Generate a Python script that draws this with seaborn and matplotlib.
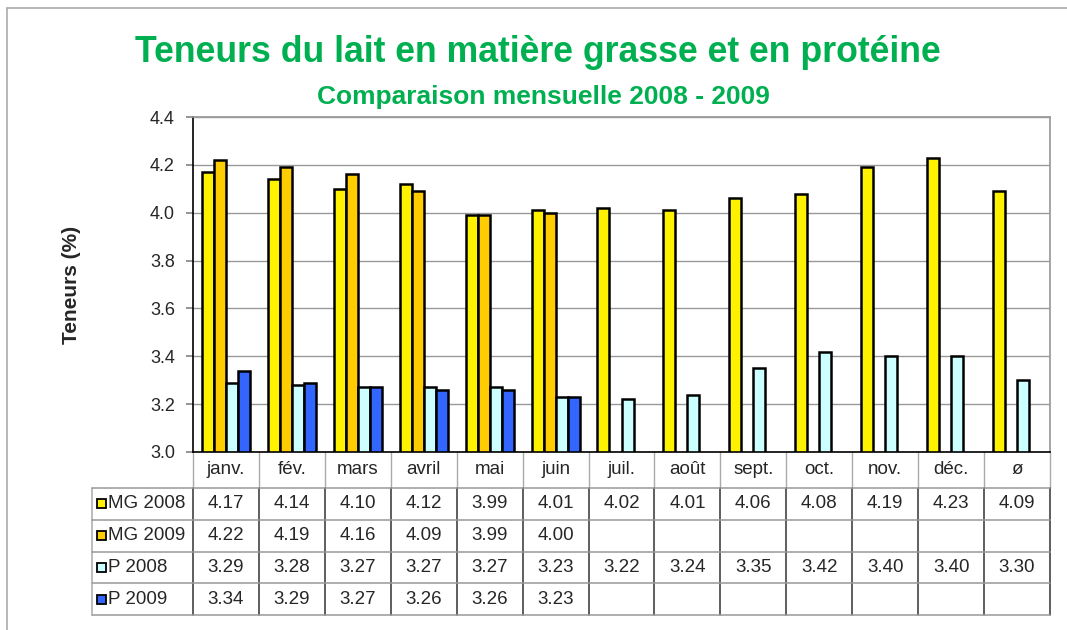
import numpy as np
import pandas as pd
import matplotlib.pyplot as plt
import seaborn as sns
from matplotlib.patches import Rectangle
from matplotlib.lines import Line2D

# data
months = ['janv.', 'fév.', 'mars', 'avril', 'mai', 'juin', 'juil.', 'août',
          'sept.', 'oct.', 'nov.', 'déc.', 'ø']
mg_2008 = [4.17, 4.14, 4.10, 4.12, 3.99, 4.01, 4.02, 4.01, 4.06, 4.08, 4.19, 4.23, 4.09]
mg_2009 = [4.22, 4.19, 4.16, 4.09, 3.99, 4.00] + [np.nan] * 7
p_2008 = [3.29, 3.28, 3.27, 3.27, 3.27, 3.23, 3.22, 3.24, 3.35, 3.42, 3.40, 3.40, 3.30]
p_2009 = [3.34, 3.29, 3.27, 3.26, 3.26, 3.23] + [np.nan] * 7
series_names = ['MG 2008', 'MG 2009', 'P 2008', 'P 2009']
colors = ['#FFF200', '#FFCC00', '#CCFFFF', '#3366FF']

series = dict(zip(series_names, [mg_2008, mg_2009, p_2008, p_2009]))
df = pd.DataFrame([(m, s, v) for s, vals in series.items() for m, v in zip(months, vals)],
                  columns=['mois', 'serie', 'valeur'])

sns.set_theme(style='white')
plt.rcParams['font.family'] = ['Liberation Sans', 'DejaVu Sans']

fig = plt.figure(figsize=(10.67, 6.3), dpi=100)
W, H = 1067, 630
ax = fig.add_axes([193 / W, 1 - 452 / H, (1050 - 193) / W, (452 - 117) / H])

sns.barplot(data=df.dropna(), x='mois', y='valeur', hue='serie', order=months,
            hue_order=series_names, palette=colors, width=0.73, errorbar=None,
            edgecolor='black', linewidth=1.8, saturation=1, legend=False, ax=ax)

ax.set_ylim(3.0, 4.4)
ax.set_xlim(-0.5, len(months) - 0.5)
ax.set_yticks(np.arange(3.0, 4.41, 0.2))
ax.set_yticklabels([f'{t:.1f}' for t in np.arange(3.0, 4.41, 0.2)], fontsize=13)
ax.tick_params(axis='y', left=True, length=5, color='#888888', pad=8)
ax.tick_params(axis='x', bottom=False, labelbottom=False)
ax.yaxis.grid(True, color='#999999', linewidth=1)
ax.set_axisbelow(True)
ax.set_xlabel('')
ax.set_ylabel('Teneurs (%)', fontsize=15, fontweight='bold', labelpad=50)
for side in ['top', 'right']:
    ax.spines[side].set_color('#999999')
for side in ['left', 'bottom']:
    ax.spines[side].set_color('black')
    ax.spines[side].set_linewidth(1.2)

# data table under the plot
tr = ax.get_xaxis_transform()
ax_h = 452 - 117
head_h = 36 / ax_h
row_h = 31.75 / ax_h
x_left = -0.5 - 101 / 66
x_right = len(months) - 0.5
n = len(months)
fs = 13.5

for i, m in enumerate(months):
    ax.text(i, -head_h / 2, m, transform=tr, ha='center', va='center', fontsize=fs)

for r, name in enumerate(series_names):
    yc = -head_h - row_h * (r + 0.5)
    for i, v in enumerate(series[name]):
        if not np.isnan(v):
            ax.text(i, yc, f'{v:.2f}', transform=tr, ha='center', va='center', fontsize=fs)
    ax.add_patch(Rectangle((x_left + 5 / 66, yc - 4.5 / ax_h), 9 / 66, 9 / ax_h,
                           transform=tr, facecolor=colors[r], edgecolor='black',
                           linewidth=1.3, clip_on=False))
    ax.text(x_left + 16 / 66, yc, name, transform=tr, ha='left', va='center', fontsize=fs)

bottom = -head_h - 4 * row_h
lines = []
# header separators (light)
for k in range(n + 1):
    lines.append(Line2D([k - 0.5, k - 0.5], [0, -head_h], color='#aaaaaa', lw=1))
# body verticals
for k in range(n + 1):
    lines.append(Line2D([k - 0.5, k - 0.5], [-head_h, bottom], color='#333333', lw=1.1))
lines.append(Line2D([x_left, x_left], [-head_h, bottom], color='#aaaaaa', lw=1.1))
# horizontals
for r in range(5):
    y = -head_h - r * row_h
    lines.append(Line2D([x_left, x_right], [y, y], color='#999999', lw=1.1))
for ln in lines:
    ln.set_transform(tr)
    ln.set_clip_on(False)
    ax.add_line(ln)

# titles
fig.text(538 / W, 1 - 53 / H, 'Teneurs du lait en matière grasse et en protéine',
         ha='center', va='center', fontsize=25.7, fontweight='bold', color='#00B050')
fig.text(543 / W, 1 - 97 / H, 'Comparaison mensuelle 2008 - 2009',
         ha='center', va='center', fontsize=19, fontweight='bold', color='#00B050')

# outer frame
fig.add_artist(Line2D([7 / W, 7 / W], [0, 1 - 8 / H], transform=fig.transFigure, color='#aaaaaa', lw=1.2))
fig.add_artist(Line2D([7 / W, 1], [1 - 8 / H, 1 - 8 / H], transform=fig.transFigure, color='#aaaaaa', lw=1.2))

fig.savefig('out.png', dpi=100)
